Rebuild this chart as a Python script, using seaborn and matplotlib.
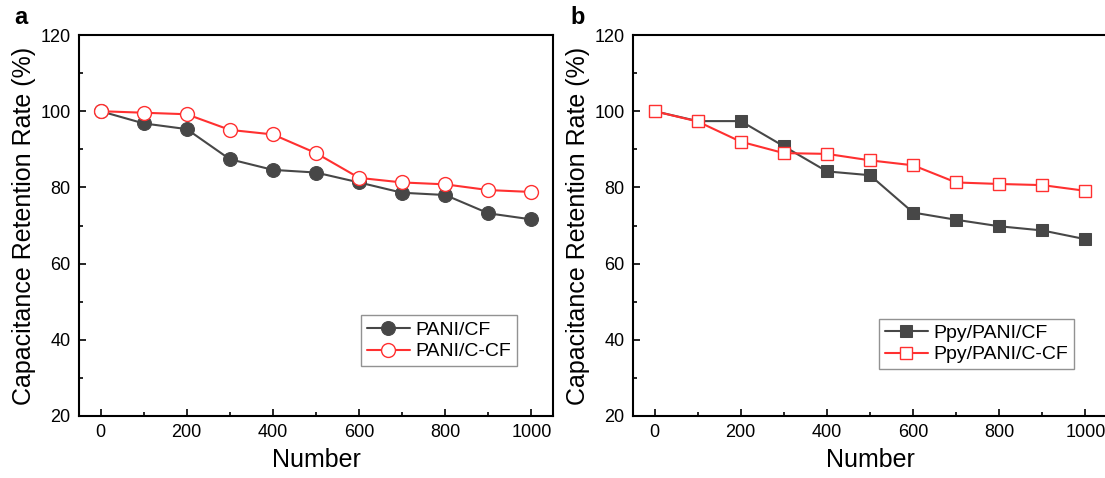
import matplotlib
matplotlib.use("Agg")
import matplotlib.pyplot as plt
from matplotlib.ticker import MultipleLocator
import seaborn as sns
import numpy as np

cycles = [0, 100, 200, 300, 400, 500, 600, 700, 800, 900, 1000]
pani_cf = [100, 96.8, 95.3, 87.4, 84.6, 83.9, 81.3, 78.6, 78.0, 73.2, 71.6]
pani_ccf = [100, 99.6, 99.2, 95.1, 93.9, 89.0, 82.5, 81.3, 80.8, 79.3, 78.8]
ppy_cf = [100, 97.4, 97.4, 90.8, 84.2, 83.2, 73.4, 71.5, 69.8, 68.7, 66.4]
ppy_ccf = [100, 97.3, 92.0, 89.0, 88.8, 87.1, 85.8, 81.3, 80.9, 80.6, 79.1]

labels_a = ["PANI/CF", "PANI/C-CF"]
labels_b = ["Ppy/PANI/CF", "Ppy/PANI/C-CF"]
panel_letters = ["a", "b"]

sns.set_style("ticks")
plt.rcParams['font.family'] = ['Liberation Sans', 'DejaVu Sans']
plt.rcParams['text.color'] = 'black'
plt.rcParams['axes.labelcolor'] = 'black'
plt.rcParams['xtick.color'] = 'black'
plt.rcParams['ytick.color'] = 'black'

dark = "#474747"
red = "#ff3030"

fig = plt.figure(figsize=(11.05, 4.78), dpi=100)
ax1 = fig.add_axes([79/1105, 62/478, 474/1105, 381/478])
ax2 = fig.add_axes([633/1105, 62/478, 474/1105, 381/478])

def draw(ax, s1, s2, labs, marker, ms1, ms2):
    sns.lineplot(x=cycles, y=s1, ax=ax, color=dark, marker=marker, markersize=ms1,
                 markerfacecolor=dark, markeredgecolor=dark, linewidth=1.5, label=labs[0])
    sns.lineplot(x=cycles, y=s2, ax=ax, color=red, marker=marker, markersize=ms2,
                 markerfacecolor="white", markeredgecolor=red, markeredgewidth=1.0,
                 linewidth=1.5, label=labs[1])
    ax.set_xlim(-50, 1050)
    ax.set_ylim(20, 120)
    ax.xaxis.set_major_locator(MultipleLocator(200))
    ax.xaxis.set_minor_locator(MultipleLocator(100))
    ax.yaxis.set_major_locator(MultipleLocator(20))
    ax.yaxis.set_minor_locator(MultipleLocator(10))
    ax.tick_params(which="both", direction="in", top=False, right=False,
                   labelsize=13, width=1.2, colors="black")
    ax.tick_params(which="major", length=5, pad=6)
    ax.tick_params(which="minor", length=3)
    for sp in ax.spines.values():
        sp.set_visible(True)
        sp.set_linewidth(1.5)
        sp.set_color("black")
    ax.set_xlabel("Number", fontsize=18, labelpad=5)
    ax.set_ylabel("Capacitance Retention Rate (%)", fontsize=18, labelpad=3)

draw(ax1, pani_cf, pani_ccf, labels_a, "o", 10, 10)
draw(ax2, ppy_cf, ppy_ccf, labels_b, "s", 8, 8)

leg1 = ax1.legend(loc="lower right", bbox_to_anchor=(0.945, 0.105), fontsize=14,
                  frameon=True, fancybox=False, edgecolor="#777777",
                  handlelength=2.2, borderpad=0.3, labelspacing=0.2, handletextpad=0.3)
leg1.get_frame().set_linewidth(1.0)
leg2 = ax2.legend(loc="lower right", bbox_to_anchor=(0.951, 0.097), fontsize=14,
                  frameon=True, fancybox=False, edgecolor="#777777",
                  handlelength=2.2, borderpad=0.3, labelspacing=0.2, handletextpad=0.3)
leg2.get_frame().set_linewidth(1.0)

fig.text(14/1105, 1 - 18/478, panel_letters[0], fontsize=17, fontweight="bold", va="center")
fig.text(570/1105, 1 - 18/478, panel_letters[1], fontsize=17, fontweight="bold", va="center")

fig.savefig("out.png", dpi=100)
